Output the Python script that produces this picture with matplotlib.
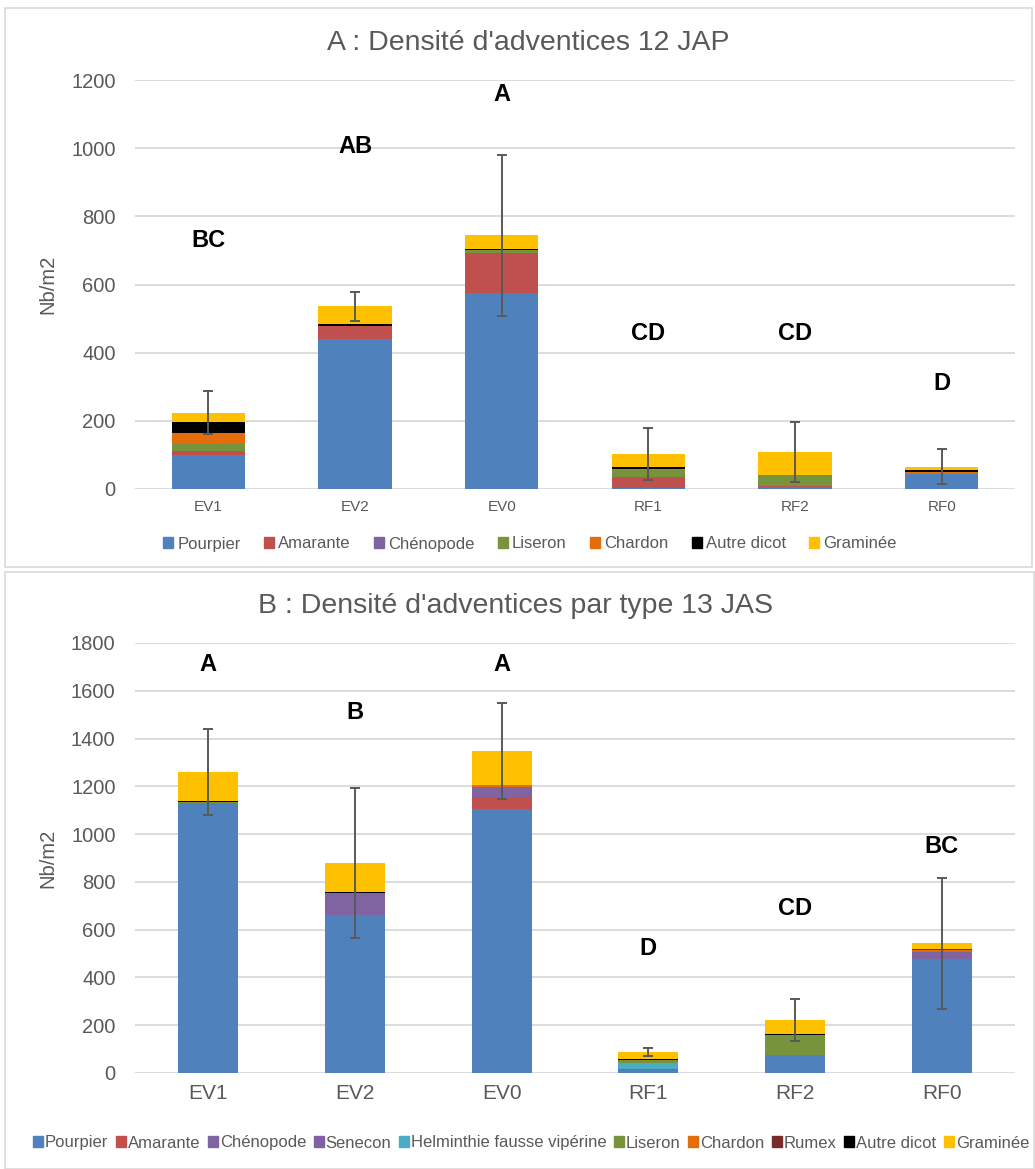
import numpy as np
import matplotlib
matplotlib.use('Agg')
import matplotlib.pyplot as plt
from matplotlib.patches import Rectangle, Patch

plt.rcParams['font.family'] = ['Liberation Sans', 'DejaVu Sans']

traitements = ['EV1', 'EV2', 'EV0', 'RF1', 'RF2', 'RF0']

# --- A : 12 JAP ---
especes_a = ['Pourpier', 'Amarante', 'Chénopode', 'Liseron', 'Chardon', 'Autre dicot', 'Graminée']
pourpier_a = [100, 440, 574, 2, 6, 43]
amarante_a = [12, 38, 117, 32, 4, 0]
chenopode_a = [0, 0, 0, 0, 0, 0]
liseron_a = [20, 0, 9, 22, 31, 0]
chardon_a = [33, 0, 0, 4, 0, 8]
autre_a = [32, 5, 4, 4, 1, 4]
graminee_a = [27, 53, 40, 38, 66, 11]
erreur_a = [64, 42, 235, 77, 88, 50]
lettres_a = ['BC', 'AB', 'A', 'CD', 'CD', 'D']
y_lettres_a = [730, 1005, 1157, 457, 457, 311]

# --- B : 13 JAS ---
especes_b = ['Pourpier', 'Amarante', 'Chénopode', 'Senecon', 'Helminthie fausse vipérine',
             'Liseron', 'Chardon', 'Rumex', 'Autre dicot', 'Graminée']
pourpier_b = [1130, 661, 1105, 12, 74, 478]
amarante_b = [0, 0, 48, 0, 0, 0]
chenopode_b = [0, 91, 46, 3, 0, 27]
senecon_b = [0, 0, 0, 3, 0, 0]
helminthie_b = [0, 0, 0, 22, 0, 0]
liseron_b = [4, 0, 0, 14, 84, 7]
chardon_b = [0, 0, 8, 0, 0, 2]
rumex_b = [0, 0, 0, 1, 0, 4]
autre_b = [3, 4, 0, 5, 5, 0]
graminee_b = [123, 123, 141, 28, 59, 25]
erreur_b = [180, 315, 200, 17, 86, 275]
lettres_b = ['A', 'B', 'A', 'D', 'CD', 'BC']
y_lettres_b = [1708, 1507, 1708, 523, 687, 950]

couleurs = {
    'Pourpier': '#4F81BD', 'Amarante': '#C0504D', 'Chénopode': '#8064A2',
    'Senecon': '#7E62A3', 'Helminthie fausse vipérine': '#4BACC6',
    'Liseron': '#77933C', 'Chardon': '#E46C0A', 'Rumex': '#772C2A',
    'Autre dicot': '#000000', 'Graminée': '#FFC000',
}
gris = '#595959'
grille = '#D9D9D9'


def trace(ax, series, especes, erreur, lettres, y_lettres, largeur, ymax, pas, fs_x):
    x = np.arange(len(traitements))
    bas = np.zeros(len(x))
    for vals, nom in zip(series, especes):
        vals = np.array(vals, dtype=float)
        ax.bar(x, vals, largeur, bottom=bas, color=couleurs[nom], zorder=2)
        bas += vals
    ax.errorbar(x, bas, yerr=erreur, fmt='none', ecolor=gris, elinewidth=1.4,
                capsize=3.3, capthick=1.4, zorder=3)
    for xi, l, yl in zip(x, lettres, y_lettres):
        ax.text(xi, yl, l, ha='center', va='center', fontsize=17, fontweight='bold')
    ax.set_xlim(-0.5, len(x) - 0.5)
    ax.set_ylim(0, ymax)
    ax.set_yticks(np.arange(0, ymax + 1, pas))
    ax.set_xticks(x)
    ax.set_xticklabels(traitements, fontsize=fs_x, color=gris)
    ax.tick_params(axis='y', labelsize=14.5, labelcolor=gris, length=0, pad=14)
    ax.tick_params(axis='x', length=0, pad=8)
    ax.grid(axis='y', color=grille, lw=1.3, zorder=0)
    for s in ax.spines.values():
        s.set_visible(False)
    ax.set_ylabel('Nb/m2', fontsize=14.5, color=gris, labelpad=10)


W, H = 1035, 1169
fig = plt.figure(figsize=(W / 100, H / 100), dpi=100)

# cadres des deux graphiques
fig.patches.append(Rectangle((5 / W, 1 - 567 / H), 1027 / W, 559 / H, transform=fig.transFigure,
                             fill=False, edgecolor=grille, lw=1.2))
fig.patches.append(Rectangle((5 / W, 0), 1029 / W, 1 - 572 / H, transform=fig.transFigure,
                             fill=False, edgecolor=grille, lw=1.2))

ax1 = fig.add_axes([135 / W, 1 - 489 / H, 880 / W, 409 / H])
trace(ax1, [pourpier_a, amarante_a, chenopode_a, liseron_a, chardon_a, autre_a, graminee_a],
      especes_a, erreur_a, lettres_a, y_lettres_a, 0.5, 1200, 200, 11)
fig.text(528 / W, 1 - 43 / H, "A : Densité d'adventices 12 JAP", ha='center', va='center',
         fontsize=20.5, color=gris)
fig.legend(handles=[Patch(color=couleurs[e], label=e) for e in especes_a],
           loc='center', bbox_to_anchor=(530 / W, 1 - 544 / H), ncol=7, frameon=False,
           fontsize=12, handlelength=0.6, handleheight=0.6, handletextpad=0.25,
           columnspacing=1.4, labelcolor=gris)

ax2 = fig.add_axes([135 / W, 1 - 1073 / H, 880 / W, 430 / H])
trace(ax2, [pourpier_b, amarante_b, chenopode_b, senecon_b, helminthie_b, liseron_b,
            chardon_b, rumex_b, autre_b, graminee_b],
      especes_b, erreur_b, lettres_b, y_lettres_b, 0.41, 1800, 200, 15)
fig.text(516 / W, 1 - 606 / H, "B : Densité d'adventices par type 13 JAS", ha='center',
         va='center', fontsize=20.5, color=gris)
fig.legend(handles=[Patch(color=couleurs[e], label=e) for e in especes_b],
           loc='center', bbox_to_anchor=(531 / W, 1 - 1143 / H), ncol=10, frameon=False,
           fontsize=12, handlelength=0.6, handleheight=0.6, handletextpad=0.12,
           columnspacing=0.45, labelcolor=gris)

fig.savefig('out.png', dpi=100)
